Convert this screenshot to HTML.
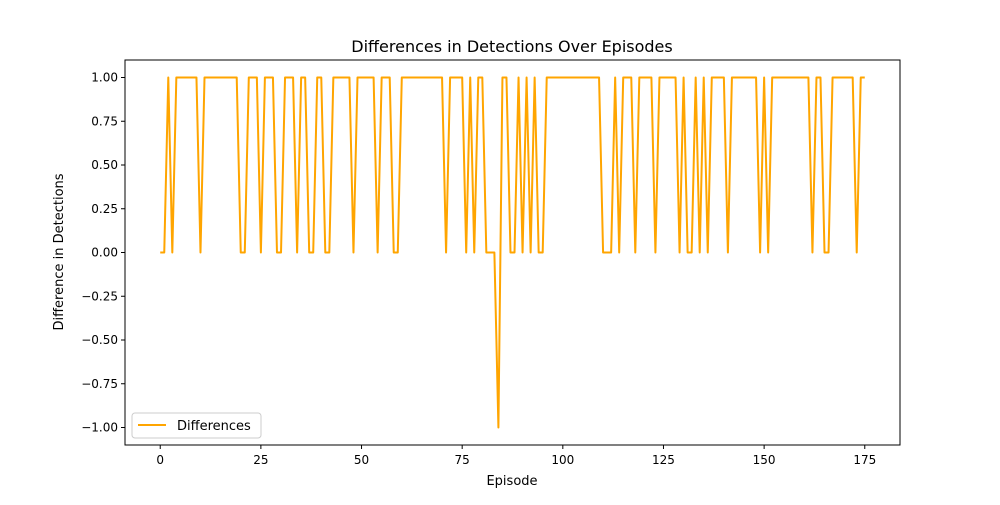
<!DOCTYPE html>
<html><head><meta charset="utf-8"><style>
body{margin:0;background:#fff;}
svg text{font-family:"DejaVu Sans","Liberation Sans",sans-serif;fill:#000;}
</style></head><body>
<svg id="chart" width="1000" height="500" xmlns="http://www.w3.org/2000/svg">
<rect width="1000" height="500" fill="#fff"/>
<text x="512" y="52" font-size="16" text-anchor="middle">Differences in Detections Over Episodes</text>
<g id="plot"></g>
<text x="512" y="485" font-size="13" text-anchor="middle">Episode</text>
<text x="0" y="0" font-size="13" text-anchor="middle" transform="translate(63,252) rotate(-90)">Difference in Detections</text>
<g>
<rect x="132" y="413" width="129" height="25" rx="3" fill="#fff" stroke="#ccc"/>
<line x1="138" y1="425" x2="166" y2="425" stroke="#ffa500" stroke-width="2"/>
<text x="177" y="430" font-size="13">Differences</text>
</g>
</svg>
<script>
const values = [
0,0,1,0,1,1,1,1,1,1,
0,1,1,1,1,1,1,1,1,1,
0,0,1,1,1,0,1,1,1,0,
0,1,1,1,0,1,1,0,0,1,
1,0,0,1,1,1,1,1,0,1,
1,1,1,1,0,1,1,1,0,0,
1,1,1,1,1,1,1,1,1,1,
1,0,1,1,1,1,0,1,0,1,
1,0,0,0,-1,1,1,0,0,1,
0,1,0,1,0,0,1,1,1,1,
1,1,1,1,1,1,1,1,1,1,
0,0,0,1,0,1,1,1,0,1,
1,1,1,0,1,1,1,1,1,0,
1,0,0,1,0,1,0,1,1,1,
1,0,1,1,1,1,1,1,1,0,
1,0,1,1,1,1,1,1,1,1,
1,1,0,1,1,0,0,1,1,1,
1,1,1,0,1,1];
const xTicks = [0,25,50,75,100,125,150,175];
const yTicks = [-1,-0.75,-0.5,-0.25,0,0.25,0.5,0.75,1];
const yTickLabels = ["\u22121.00","\u22120.75","\u22120.50","\u22120.25","0.00","0.25","0.50","0.75","1.00"];

const L=125,R=900,T=60,B=445;
const xMin=-8.75,xMax=183.75,yMin=-1.1,yMax=1.1;
const xs=v=>L+(v-xMin)/(xMax-xMin)*(R-L);
const ys=v=>B-(v-yMin)/(yMax-yMin)*(B-T);
const NS="http://www.w3.org/2000/svg";
const g=document.getElementById('plot');
function mk(t,a){const e=document.createElementNS(NS,t);for(const k in a)e.setAttribute(k,a[k]);g.appendChild(e);return e;}

const pts=values.map((v,i)=>xs(i).toFixed(2)+','+ys(v).toFixed(2)).join(' ');
const line=mk('polyline',{points:pts,fill:'none',stroke:'#ffa500','stroke-width':2,'stroke-linejoin':'round'});



const frame=mk('rect',{x:L,y:T,width:R-L,height:B-T,fill:'none',stroke:'#000','stroke-width':1});



xTicks.forEach(t=>{
  const x=xs(t);
  const tk=mk('line',{x1:x,y1:B,x2:x,y2:B+4,stroke:'#000'});
  
  
  const tx=mk('text',{x:x,y:B+19,'font-size':12,'text-anchor':'middle'});
  tx.textContent=t;
  
  
});
yTicks.forEach((t,i)=>{
  const y=ys(t);
  const tk=mk('line',{x1:L-4,y1:y,x2:L,y2:y,stroke:'#000'});
  
  
  const tx=mk('text',{x:L-7,y:y+4,'font-size':12,'text-anchor':'end'});
  tx.textContent=yTickLabels[i];
  
  
});
</script>
</body></html>
